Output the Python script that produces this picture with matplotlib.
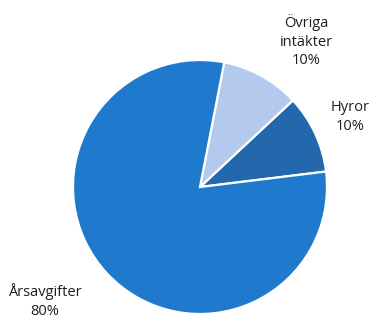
import matplotlib
matplotlib.use("Agg")
import matplotlib.pyplot as plt

categories = ["Hyror", "Övriga\nintäkter", "Årsavgifter"]
values = [10, 10, 80]
colors = ["#2367ad", "#b3c9ee", "#1f7acd"]

W, H = 374, 321
fig = plt.figure(figsize=(W / 100, H / 100), dpi=100)
ax = fig.add_axes([0, 0, 1, 1])
ax.pie(values, colors=colors, startangle=7, counterclock=True,
       center=(200, 134), radius=127,
       wedgeprops=dict(edgecolor="white", linewidth=1.6))
ax.set_xlim(0, W)
ax.set_ylim(0, H)
ax.set_aspect("equal")
ax.axis("off")

label_pos = [(350, 204), (306, 280), (45, 20)]
for cat, v, (x, y) in zip(categories, values, label_pos):
    ax.text(x, y, f"{cat}\n{v}%", ha="center", va="center", fontsize=10.5,
            color="#1e1e1e", family="Open Sans", linespacing=1.35)

fig.savefig("out.png", dpi=100)
